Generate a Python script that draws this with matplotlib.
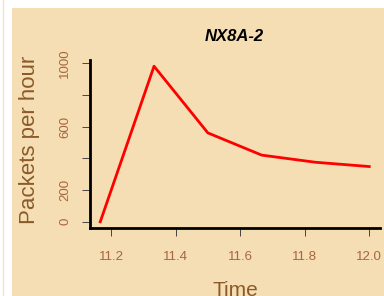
import matplotlib
matplotlib.use("Agg")
import matplotlib.pyplot as plt
from matplotlib.patches import Rectangle
from matplotlib.lines import Line2D

plt.rcParams['font.family'] = ['Liberation Sans', 'DejaVu Sans']

time = [11.1667, 11.3333, 11.5, 11.6667, 11.8333, 12.0]
packets = [0, 980, 560, 420, 375, 348]
xticks = [11.2, 11.4, 11.6, 11.8, 12.0]
xticklabels = ["11.2", "11.4", "11.6", "11.8", "12.0"]
yticks = [0, 200, 400, 600, 800, 1000]
yticklabels = ["0", "200", "", "600", "", "1000"]

W, H = 384, 296
fig = plt.figure(figsize=(W / 100, H / 100), dpi=100)
fig.patch.set_facecolor("white")
bg = "#F5DEB3"
fig.add_artist(Rectangle((12 / W, 0), (W - 12) / W, (H - 8) / H,
                         transform=fig.transFigure, facecolor=bg, edgecolor="none", zorder=0))
fig.add_artist(Line2D([3 / W, 3 / W], [0, 1], transform=fig.transFigure,
                      color="#f0e4d0", lw=1, zorder=0))

left, right, top, bottom = 89.5, 380, 60, 228
ax = fig.add_axes([left / W, 1 - bottom / H, (right - left) / W, (bottom - top) / H])
ax.set_facecolor("none")
ax.plot(time, packets, color="red", lw=2)
xr = time[-1] - time[0]
ax.set_xlim(time[0] - 0.04 * xr, time[-1] + 0.04 * xr)
yr = max(packets) - min(packets)
ax.set_ylim(min(packets) - 0.04 * yr, max(packets) + 0.04 * yr)

for s in ["top", "right"]:
    ax.spines[s].set_visible(False)
for s in ["left", "bottom"]:
    ax.spines[s].set_linewidth(2)
    ax.spines[s].set_color("black")

tickcol = "#a8663f"
ax.set_xticks(xticks)
ax.set_xticklabels(xticklabels, color=tickcol, fontsize=9.5)
ax.set_yticks(yticks)
ax.set_yticklabels(yticklabels, color=tickcol, fontsize=9.5, rotation=90, va="center")
ax.tick_params(axis="both", length=5.5, width=0.7, color="#444444")
ax.tick_params(axis="x", pad=11)
ax.tick_params(axis="y", pad=7.5)

labcol = "#8b5a2b"
ax.set_xlabel("Time", color=labcol, fontsize=15)
ax.xaxis.set_label_coords(0.5009, -0.315)
ax.set_ylabel("Packets per hour", color=labcol, fontsize=16)
ax.yaxis.set_label_coords(-0.17, 0.524)
ax.set_title("NX8A-2", fontsize=12, fontweight="bold", fontstyle="italic", pad=14)

fig.savefig("out.png", dpi=100, facecolor=fig.get_facecolor())
